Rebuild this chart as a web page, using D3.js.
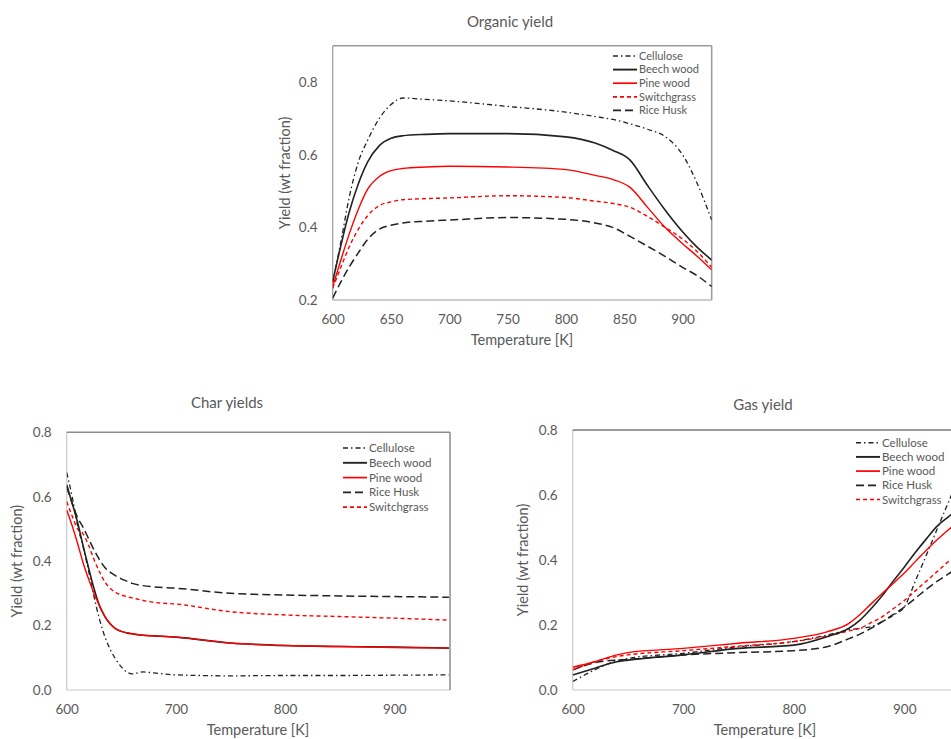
<!DOCTYPE html>
<html>
<head>
<meta charset="utf-8">
<script src="https://cdn.jsdelivr.net/npm/d3@7"></script>
<style>
  body { margin: 0; background: #fff; }
  svg { display: block; font-family: Lato, "Open Sans", sans-serif; }
</style>
</head>
<body>
<div id="chart"></div>
<script>
const width = 951;
const height = 739;

// ---- Organic yield ----
const organicT = [600, 607, 614, 622, 630, 640, 650, 660, 680, 700, 750, 800, 825, 840, 855, 870, 885, 900, 912, 925];
const organicCellulose   = [0.25, 0.36, 0.48, 0.58, 0.64, 0.70, 0.738, 0.756, 0.752, 0.748, 0.733, 0.717, 0.705, 0.697, 0.685, 0.67, 0.65, 0.60, 0.525, 0.42];
const organicBeech       = [0.25, 0.35, 0.44, 0.52, 0.58, 0.625, 0.645, 0.652, 0.656, 0.658, 0.658, 0.649, 0.632, 0.612, 0.585, 0.515, 0.448, 0.388, 0.347, 0.31];
const organicPine        = [0.237, 0.31, 0.38, 0.45, 0.505, 0.54, 0.556, 0.562, 0.566, 0.568, 0.566, 0.559, 0.543, 0.532, 0.51, 0.455, 0.40, 0.355, 0.322, 0.283];
const organicSwitchgrass = [0.232, 0.29, 0.345, 0.395, 0.432, 0.46, 0.47, 0.476, 0.479, 0.481, 0.487, 0.482, 0.472, 0.466, 0.455, 0.43, 0.40, 0.368, 0.335, 0.29];
const organicRiceHusk    = [0.205, 0.25, 0.29, 0.33, 0.367, 0.395, 0.406, 0.412, 0.417, 0.42, 0.427, 0.422, 0.412, 0.40, 0.375, 0.348, 0.32, 0.29, 0.268, 0.237];

// ---- Char yields ----
const charT = [600, 605, 610, 615, 620, 625, 630, 635, 640, 645, 650, 655, 660, 670, 680, 700, 750, 800, 850, 900, 950];
const charCellulose   = [0.675, 0.60, 0.51, 0.445, 0.37, 0.29, 0.22, 0.165, 0.125, 0.095, 0.072, 0.056, 0.05, 0.056, 0.053, 0.047, 0.044, 0.045, 0.045, 0.046, 0.047];
const charBeech       = [0.637, 0.58, 0.52, 0.448, 0.38, 0.315, 0.262, 0.228, 0.205, 0.19, 0.182, 0.177, 0.174, 0.17, 0.168, 0.164, 0.146, 0.138, 0.135, 0.133, 0.13];
const charPine        = [0.559, 0.51, 0.455, 0.395, 0.345, 0.30, 0.262, 0.228, 0.205, 0.19, 0.182, 0.178, 0.175, 0.17, 0.168, 0.164, 0.146, 0.138, 0.135, 0.132, 0.13];
const charRiceHusk    = [0.63, 0.58, 0.535, 0.505, 0.47, 0.435, 0.405, 0.38, 0.365, 0.354, 0.345, 0.338, 0.331, 0.324, 0.32, 0.316, 0.30, 0.295, 0.292, 0.29, 0.288];
const charSwitchgrass = [0.585, 0.54, 0.50, 0.485, 0.45, 0.405, 0.367, 0.335, 0.315, 0.302, 0.295, 0.29, 0.286, 0.278, 0.272, 0.267, 0.243, 0.233, 0.228, 0.223, 0.217];

// ---- Gas yield ----
const gasT = [600, 620, 640, 650, 700, 750, 800, 830, 850, 860, 870, 880, 890, 900, 910, 920, 930, 940, 950];
const gasCellulose   = [0.026, 0.062, 0.09, 0.097, 0.113, 0.133, 0.149, 0.169, 0.185, 0.19, 0.195, 0.21, 0.23, 0.255, 0.335, 0.415, 0.497, 0.578, 0.66];
const gasBeech       = [0.046, 0.067, 0.087, 0.092, 0.108, 0.128, 0.138, 0.164, 0.19, 0.215, 0.25, 0.29, 0.335, 0.378, 0.423, 0.465, 0.505, 0.533, 0.56];
const gasPine        = [0.07, 0.087, 0.108, 0.115, 0.128, 0.144, 0.159, 0.179, 0.205, 0.232, 0.265, 0.297, 0.328, 0.36, 0.395, 0.43, 0.463, 0.493, 0.52];
const gasRiceHusk    = [0.062, 0.084, 0.092, 0.094, 0.108, 0.115, 0.121, 0.133, 0.158, 0.172, 0.19, 0.21, 0.232, 0.255, 0.282, 0.31, 0.335, 0.357, 0.38];
const gasSwitchgrass = [0.062, 0.087, 0.103, 0.108, 0.121, 0.135, 0.149, 0.166, 0.182, 0.19, 0.207, 0.225, 0.25, 0.275, 0.305, 0.335, 0.365, 0.395, 0.42];

// line styles per feedstock
const styles = {
  "Cellulose":   { color: "#222", width: 1.3, dash: "5,3,1.5,3" },
  "Beech wood":  { color: "#222", width: 1.6, dash: null },
  "Pine wood":   { color: "#ff0000", width: 1.4, dash: null },
  "Switchgrass": { color: "#ff0000", width: 1.4, dash: "4,3" },
  "Rice Husk":   { color: "#222", width: 1.5, dash: "8,4" }
};

const textColor = "#595959";

const svg = d3.select("#chart")
  .append("svg")
  .attr("width", width)
  .attr("height", height);

function drawChart(cfg) {
  const x = d3.scaleLinear().domain(cfg.xDomain).range([cfg.left, cfg.right]);
  const y = d3.scaleLinear().domain(cfg.yDomain).range([cfg.bottom, cfg.top]);

  const clipId = "clip-" + cfg.id;
  svg.append("clipPath").attr("id", clipId)
    .append("rect")
    .attr("x", cfg.left).attr("y", cfg.top)
    .attr("width", cfg.right - cfg.left).attr("height", cfg.bottom - cfg.top);

  // plot area border
  const g = svg.append("g");
  g.append("line").attr("x1", cfg.left).attr("x2", cfg.left).attr("y1", cfg.top).attr("y2", cfg.bottom)
    .attr("stroke", cfg.sideColor).attr("stroke-width", 1.2);
  g.append("line").attr("x1", cfg.left).attr("x2", cfg.right).attr("y1", cfg.bottom).attr("y2", cfg.bottom)
    .attr("stroke", cfg.sideColor).attr("stroke-width", 1.2);
  g.append("line").attr("x1", cfg.left).attr("x2", cfg.right).attr("y1", cfg.top).attr("y2", cfg.top)
    .attr("stroke", cfg.topColor).attr("stroke-width", 1.5);
  g.append("line").attr("x1", cfg.right).attr("x2", cfg.right).attr("y1", cfg.top).attr("y2", cfg.bottom)
    .attr("stroke", cfg.topColor).attr("stroke-width", 1.5);

  // axes
  const xAxis = g.append("g")
    .attr("transform", `translate(0,${cfg.bottom})`)
    .call(d3.axisBottom(x).tickValues(cfg.xTicks).tickSize(0).tickPadding(14).tickFormat(d3.format("d")));
  const yAxis = g.append("g")
    .attr("transform", `translate(${cfg.left},0)`)
    .call(d3.axisLeft(y).tickValues(cfg.yTicks).tickSize(0).tickPadding(15).tickFormat(d3.format(".1f")));
  [xAxis, yAxis].forEach(a => {
    a.select(".domain").remove();
    a.selectAll("text").attr("fill", textColor).style("font-size", "13.5px").style("font-family", "Lato, sans-serif");
  });

  // series lines
  const line = d3.line()
    .x(d => x(d[0]))
    .y(d => y(d[1]))
    .curve(d3.curveMonotoneX);

  g.append("g").attr("clip-path", `url(#${clipId})`)
    .selectAll("path")
    .data(cfg.series)
    .join("path")
      .attr("d", s => line(cfg.xs.map((t, i) => [t, s.values[i]])))
      .attr("fill", "none")
      .attr("stroke", s => styles[s.name].color)
      .attr("stroke-width", s => styles[s.name].width)
      .attr("stroke-dasharray", s => styles[s.name].dash);

  // titles
  g.append("text")
    .attr("x", cfg.titleX).attr("y", cfg.titleY)
    .attr("text-anchor", "middle")
    .attr("fill", textColor)
    .style("font-size", "15px")
    .text(cfg.title);
  g.append("text")
    .attr("x", cfg.xTitleX).attr("y", cfg.xTitleY)
    .attr("text-anchor", "middle")
    .attr("fill", textColor)
    .style("font-size", "14.5px")
    .text("Temperature [K]");
  g.append("text")
    .attr("transform", `translate(${cfg.yTitleX},${(cfg.top + cfg.bottom) / 2}) rotate(-90)`)
    .attr("text-anchor", "middle")
    .attr("dominant-baseline", "middle")
    .attr("fill", textColor)
    .style("font-size", "14.5px")
    .text("Yield (wt fraction)");

  // legend
  const leg = g.append("g")
    .selectAll("g")
    .data(cfg.legend)
    .join("g")
      .attr("transform", (d, i) => `translate(${cfg.legX},${cfg.legY + i * cfg.legStep})`);
  leg.append("line")
    .attr("x1", 0).attr("x2", 24)
    .attr("stroke", d => styles[d].color)
    .attr("stroke-width", d => styles[d].width + 0.3)
    .attr("stroke-dasharray", d => styles[d].dash);
  leg.append("text")
    .attr("x", 26)
    .attr("dy", "0.35em")
    .attr("fill", textColor)
    .style("font-size", cfg.legFont)
    .text(d => d);
}

drawChart({
  id: "organic",
  left: 332.7, right: 711.7, top: 45.7, bottom: 300,
  xDomain: [600, 925], yDomain: [0.2, 0.9],
  xTicks: [600, 650, 700, 750, 800, 850, 900], yTicks: [0.2, 0.4, 0.6, 0.8],
  xs: organicT,
  series: [
    { name: "Cellulose", values: organicCellulose },
    { name: "Beech wood", values: organicBeech },
    { name: "Pine wood", values: organicPine },
    { name: "Switchgrass", values: organicSwitchgrass },
    { name: "Rice Husk", values: organicRiceHusk }
  ],
  legend: ["Cellulose", "Beech wood", "Pine wood", "Switchgrass", "Rice Husk"],
  legX: 613, legY: 56, legStep: 13.6, legFont: "11px",
  sideColor: "#9a9a9a", topColor: "#9a9a9a",
  title: "Organic yield", titleX: 510, titleY: 27,
  xTitleX: 522, xTitleY: 345, yTitleX: 286
});

drawChart({
  id: "char",
  left: 66.7, right: 450, top: 432.3, bottom: 690,
  xDomain: [600, 951], yDomain: [0, 0.8],
  xTicks: [600, 700, 800, 900], yTicks: [0, 0.2, 0.4, 0.6, 0.8],
  xs: charT,
  series: [
    { name: "Cellulose", values: charCellulose },
    { name: "Rice Husk", values: charRiceHusk },
    { name: "Switchgrass", values: charSwitchgrass },
    { name: "Beech wood", values: charBeech },
    { name: "Pine wood", values: charPine }
  ],
  legend: ["Cellulose", "Beech wood", "Pine wood", "Rice Husk", "Switchgrass"],
  legX: 343, legY: 448, legStep: 14.8, legFont: "11.5px",
  sideColor: "#c8c8c8", topColor: "#8c8c8c",
  title: "Char yields", titleX: 227, titleY: 408,
  xTitleX: 258, xTitleY: 735, yTitleX: 18
});

drawChart({
  id: "gas",
  left: 572.7, right: 959.5, top: 430, bottom: 690,
  xDomain: [600, 950], yDomain: [0, 0.8],
  xTicks: [600, 700, 800, 900], yTicks: [0, 0.2, 0.4, 0.6, 0.8],
  xs: gasT,
  series: [
    { name: "Cellulose", values: gasCellulose },
    { name: "Rice Husk", values: gasRiceHusk },
    { name: "Switchgrass", values: gasSwitchgrass },
    { name: "Beech wood", values: gasBeech },
    { name: "Pine wood", values: gasPine }
  ],
  legend: ["Cellulose", "Beech wood", "Pine wood", "Rice Husk", "Switchgrass"],
  legX: 856, legY: 442.7, legStep: 14.2, legFont: "11.5px",
  sideColor: "#c8c8c8", topColor: "#7a7a7a",
  title: "Gas yield", titleX: 763, titleY: 410,
  xTitleX: 765, xTitleY: 735, yTitleX: 524
});
</script>
</body>
</html>
